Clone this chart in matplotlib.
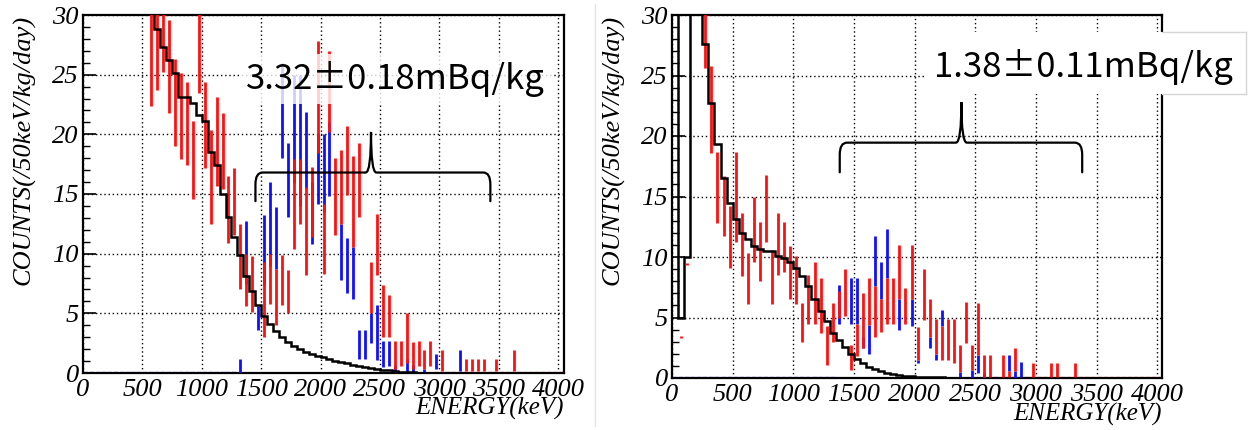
import numpy as np
import matplotlib
matplotlib.use("Agg")
import matplotlib.pyplot as plt
from matplotlib.path import Path
from matplotlib.patches import PathPatch, Rectangle
from matplotlib.lines import Line2D
from matplotlib.ticker import MultipleLocator

SERIF = "Liberation Serif"
JP = ["Noto Sans CJK JP", "DejaVu Sans"]

X_TICKS = [0, 500, 1000, 1500, 2000, 2500, 3000, 3500, 4000]
Y_TICKS = [0, 5, 10, 15, 20, 25, 30]

# ====== LEFT PANEL (3.32 mBq/kg) ======
# black step histogram, 50 keV bins starting at 500 keV
L_MC_EDGES = np.arange(500, 3050, 50)
L_MC_VALS = [40, 35, 28.8, 27.3, 26.2, 25.1, 23.1, 23.1, 22.6, 21.6,
             21.1, 18.5, 17.4, 15.0, 13.1, 11.4, 9.9, 8.1, 6.9, 5.7,
             4.8, 4.1, 3.5, 3.0, 2.6, 2.3, 2.0, 1.8, 1.6, 1.45,
             1.3, 1.15, 1.0, 0.9, 0.8, 0.7, 0.6, 0.5, 0.42, 0.35,
             0.28, 0.22, 0.17, 0.12, 0.08, 0.06, 0.04, 0.03, 0.02, 0.02]

# red data: bin centre, lower / upper end of error bar
L_RED_E = [575, 625, 675, 725, 775, 825, 875, 925, 975, 1025,
           1075, 1125, 1175, 1225, 1275, 1325, 1375, 1425, 1525, 1575,
           1625, 1675, 1725, 1775, 1825, 1875, 1925, 1975, 2025, 2075,
           2125, 2175, 2225, 2275, 2325, 2425, 2475, 2525, 2575, 2625,
           2675, 2725, 2775, 2825, 2875, 2925, 3025, 3225, 3275, 3325,
           3375, 3475, 3625]
L_RED_LO = [22.4, 23.7, 25.2, 21.8, 19.0, 17.9, 17.4, 14.6, 23.5, 17.2,
            12.5, 15.7, 15.4, 10.9, 11.6, 7.0, 5.6, 5.1, 3.0, 5.8,
            4.0, 5.7, 5.0, 10.4, 12.5, 8.2, 11.4, 18.4, 8.3, 20.2,
            11.6, 12.5, 14.9, 10.6, 13.1, 5.0, 8.2, 3.0, 3.0, 0.3,
            0.6, 0.8, 0.3, 0.6, 0.3, 0.6, 0.2, 0.2, 0.2, 0.2,
            0.2, 0.2, 0.2]
L_RED_HI = [31, 31, 31, 29.6, 26.3, 25.1, 24.4, 21.1, 31, 24.4,
            20.4, 23.1, 21.8, 16.5, 17.2, 12.5, 10.0, 9.8, 9.3, 10.0,
            8.7, 9.9, 8.6, 17.9, 17.9, 15.6, 17.3, 27.8, 14.2, 27.0,
            18.0, 18.7, 20.7, 18.2, 19.3, 9.3, 13.3, 7.4, 6.5, 2.7,
            2.7, 5.0, 2.6, 2.7, 1.9, 2.7, 1.9, 1.2, 1.2, 1.2,
            1.2, 1.2, 1.9]

# blue data
L_BLUE_E = [1325, 1375, 1475, 1525, 1575, 1625, 1675, 1725, 1775, 1825,
            1875, 1925, 1975, 2025, 2075, 2175, 2225, 2275, 2325, 2375,
            2425, 2475, 2525, 2575, 2625, 2725, 2775, 2875, 2975, 3175]
L_BLUE_LO = [0.0, 7.5, 3.6, 7.4, 9.0, 8.7, 18.0, 13.1, 15.9, 14.0,
             15.4, 10.8, 14.2, 13.5, 14.8, 7.8, 6.7, 6.2, 1.2, 1.2,
             2.5, 1.1, 0.5, 0.6, 0.0, 0.0, 0.0, 0.0, 0.3, 0.2]
L_BLUE_HI = [1.2, 12.7, 5.6, 13.2, 16.0, 13.9, 26.0, 19.3, 25.0, 25.0,
             21.9, 16.0, 20.0, 20.0, 21.0, 12.5, 11.3, 10.6, 3.6, 3.6,
             5.0, 5.7, 2.7, 2.7, 0.7, 1.2, 0.7, 0.3, 1.6, 1.9]

# empty bins drawn as points on zero
L_BLUE_ZERO_E = np.arange(25, 1300, 50)
L_RED_ZERO_E = np.arange(2975, 4050, 50)

# ====== RIGHT PANEL (1.38 mBq/kg) ======
R_MC_EDGES = np.arange(0, 2500, 50)
R_MC_VALS = [40, 5.0, 10.0, 40, 40, 27.6, 22.7, 19.3, 16.5, 14.5,
             13.1, 12.0, 11.5, 10.9, 10.7, 10.5, 10.5, 10.1, 9.9, 9.6,
             9.1, 8.4, 7.6, 6.5, 5.5, 4.75, 3.7, 3.1, 2.6, 2.0,
             1.55, 1.2, 0.95, 0.72, 0.58, 0.44, 0.33, 0.25, 0.2, 0.15,
             0.12, 0.1, 0.08, 0.06, 0.05, 0.04, 0.03, 0.02, 0.02]

R_RED_E = [75, 125, 275, 325, 375, 425, 475, 525, 575, 625,
           675, 725, 775, 825, 875, 925, 975, 1025, 1075, 1125,
           1175, 1225, 1275, 1325, 1375, 1425, 1475, 1525, 1575, 1625,
           1675, 1725, 1775, 1825, 1875, 1925, 1975, 2025, 2075, 2125,
           2175, 2225, 2275, 2325, 2375, 2425, 2475, 2525, 2575, 2625,
           2725, 2775, 2825, 2975, 3125, 3175, 3325]
R_RED_LO = [3.3, 9.3, 25.6, 18.6, 12.8, 11.7, 9.1, 11.2, 8.4, 6.1,
            9.6, 8.0, 11.2, 6.1, 8.5, 8.8, 6.5, 6.1, 3.0, 4.5,
            4.5, 3.7, 1.1, 3.0, 5.0, 5.1, 0.7, 1.8, 2.5, 4.4,
            3.4, 3.8, 4.5, 4.5, 6.5, 4.5, 6.5, 1.5, 4.8, 3.4,
            2.0, 1.5, 1.5, 1.2, 0.5, 2.9, 0.7, 1.9, 0.1, 0.1,
            0.1, 0.1, 0.6, 0.1, 0.1, 0.1, 0.1]
R_RED_HI = [3.5, 9.5, 30.5, 25.8, 18.7, 16.7, 14.2, 18.7, 13.6, 10.3,
            15.0, 12.9, 16.8, 10.6, 13.6, 12.9, 10.9, 10.1, 6.2, 8.5,
            9.6, 8.3, 4.3, 6.2, 7.2, 9.0, 2.7, 4.5, 7.0, 8.3,
            7.6, 6.5, 8.3, 8.3, 11.0, 7.4, 11.0, 4.2, 9.0, 6.5,
            4.9, 4.3, 4.9, 4.9, 2.7, 6.3, 2.7, 6.2, 1.9, 1.9,
            1.9, 0.6, 2.5, 1.2, 1.2, 1.2, 1.2]

R_BLUE_E = [1375, 1475, 1525, 1575, 1625, 1675, 1725, 1775, 1875, 1975,
            2025, 2125, 2175, 2225, 2375, 2475, 2525, 2575, 2775, 2825,
            2875]
R_BLUE_LO = [4.5, 4.5, 4.5, 2.5, 2.0, 7.6, 6.5, 8.3, 4.0, 4.3,
             1.2, 2.5, 1.5, 4.3, 0.0, 0.0, 0.4, 0.0, 0.6, 0.0,
             0.1]
R_BLUE_HI = [7.7, 8.3, 8.3, 3.4, 4.4, 11.7, 9.6, 12.3, 6.5, 6.5,
             1.5, 3.4, 2.0, 5.6, 0.5, 0.7, 1.9, 0.4, 1.9, 0.6,
             1.3]

R_BLUE_ZERO_E = np.arange(25, 1350, 50)
R_RED_ZERO_E = np.arange(2625, 4050, 50)

# annotations
L_TEXT = "3.32\u00b10.18mBq/kg"
R_TEXT = "1.38\u00b10.11mBq/kg"
# brace: x start, x end, y of bar, y of ends, x of tip, y of tip
L_BRACE = (1452, 3430, 16.8, 14.4, 2425, 20.2)
R_BRACE = (1383, 3382, 19.45, 17.0, 2386, 22.8)


def draw_brace(ax, x0, x1, y, y_end, xc, y_tip, rx=60, ry=1.0, rc=45):
    verts = [(x0, y_end), (x0, y - ry), (x0, y), (x0 + rx, y),
             (xc - rc, y), (xc, y), (xc, y_tip), (xc, y), (xc + rc, y),
             (x1 - rx, y), (x1, y), (x1, y - ry), (x1, y_end)]
    codes = [Path.MOVETO, Path.LINETO, Path.CURVE3, Path.CURVE3,
             Path.LINETO, Path.CURVE3, Path.CURVE3, Path.CURVE3, Path.CURVE3,
             Path.LINETO, Path.CURVE3, Path.CURVE3, Path.LINETO]
    ax.add_patch(PathPatch(Path(verts, codes), fc="none", ec="black",
                           lw=1.6, zorder=7, capstyle="round"))


def draw_panel(ax, xmax, mc_edges, mc_vals, red, blue, blue_zero, red_zero, xlab_y):
    ax.plot(blue_zero, np.zeros(len(blue_zero)), ls="none", marker="_",
            ms=3, mew=1.6, color="blue", zorder=2)
    ax.plot(red_zero, np.zeros(len(red_zero)), ls="none", marker="_",
            ms=3, mew=1.6, color="red", zorder=2)
    ax.vlines(blue[0], blue[1], blue[2], color="#1010ff", lw=2.0, zorder=3)
    ax.vlines(red[0], red[1], red[2], color="#ff1010", lw=2.0, zorder=4)
    ax.stairs(mc_vals, mc_edges, baseline=None, color="black", lw=1.8, zorder=5)

    ax.set_xlim(0, xmax)
    ax.set_ylim(0, 30)
    ax.set_xticks(X_TICKS)
    ax.set_yticks(Y_TICKS)
    ax.yaxis.set_minor_locator(MultipleLocator(1))
    ax.grid(True, which="major", color="black", ls=(0, (1, 2)), lw=1.0)
    ax.set_axisbelow(True)
    ax.tick_params(axis="y", which="major", direction="in", length=9, width=1.2, pad=3)
    ax.tick_params(axis="y", which="minor", direction="in", length=5, width=1.0)
    ax.tick_params(axis="x", which="both", length=0, pad=4)
    for lab in ax.get_xticklabels() + ax.get_yticklabels():
        lab.set_fontfamily(SERIF)
        lab.set_fontstyle("italic")
        lab.set_fontsize(19)
    for sp in ax.spines.values():
        sp.set_linewidth(1.6)
    ax.set_ylabel("COUNTS(/50keV/kg/day)", fontfamily=SERIF, fontstyle="italic",
                  fontsize=19, loc="top", labelpad=12)
    ax.set_xlabel("ENERGY(keV)", fontfamily=SERIF, fontstyle="italic",
                  fontsize=18, ha="right", va="top")
    ax.xaxis.set_label_coords(1.0, xlab_y)


fig = plt.figure(figsize=(12.48, 4.30), dpi=100)
W, H = 1248, 430
ax_l = fig.add_axes([83 / W, (H - 373) / H, (564 - 83) / W, (373 - 15) / H])
ax_r = fig.add_axes([672 / W, (H - 378) / H, (1162 - 672) / W, (378 - 15) / H])

draw_panel(ax_l, 4050, L_MC_EDGES, L_MC_VALS,
           (L_RED_E, L_RED_LO, L_RED_HI), (L_BLUE_E, L_BLUE_LO, L_BLUE_HI),
           L_BLUE_ZERO_E, L_RED_ZERO_E, -0.066)
draw_panel(ax_r, 4040, R_MC_EDGES, R_MC_VALS,
           (R_RED_E, R_RED_LO, R_RED_HI), (R_BLUE_E, R_BLUE_LO, R_BLUE_HI),
           R_BLUE_ZERO_E, R_RED_ZERO_E, -0.068)

draw_brace(ax_l, *L_BRACE)
draw_brace(ax_r, *R_BRACE)

ax_l.text(0.339, 0.82, L_TEXT, transform=ax_l.transAxes, ha="left", va="center",
          fontfamily=JP, fontsize=25, zorder=8,
          bbox=dict(boxstyle="square,pad=0.2", fc="white", ec="none", alpha=0.8))

# pasted label box on the right panel: white patch hiding the frame,
# light grey border only visible outside the plot frame
fig.add_artist(Rectangle((925 / W, (H - 94) / H), (1246 - 925) / W, 62 / H,
                         transform=fig.transFigure, fc="white", ec="none", zorder=9))
for xs, ys in [([1162, 1246], [32, 32]), ([1246, 1246], [32, 94]), ([1162, 1246], [94, 94])]:
    fig.add_artist(Line2D([x / W for x in xs], [(H - y) / H for y in ys],
                          color="#d6d6d6", lw=1.0, zorder=9.5))
fig.text(934 / W, (H - 67) / H, R_TEXT, ha="left", va="center",
         fontfamily=JP, fontsize=25, zorder=10)

# thin grey divider between the two screenshots
fig.add_artist(Line2D([595 / W, 595 / W], [0.01, 0.99], color="#e4e4e4", lw=1.0))

fig.savefig("out.png", dpi=100)
